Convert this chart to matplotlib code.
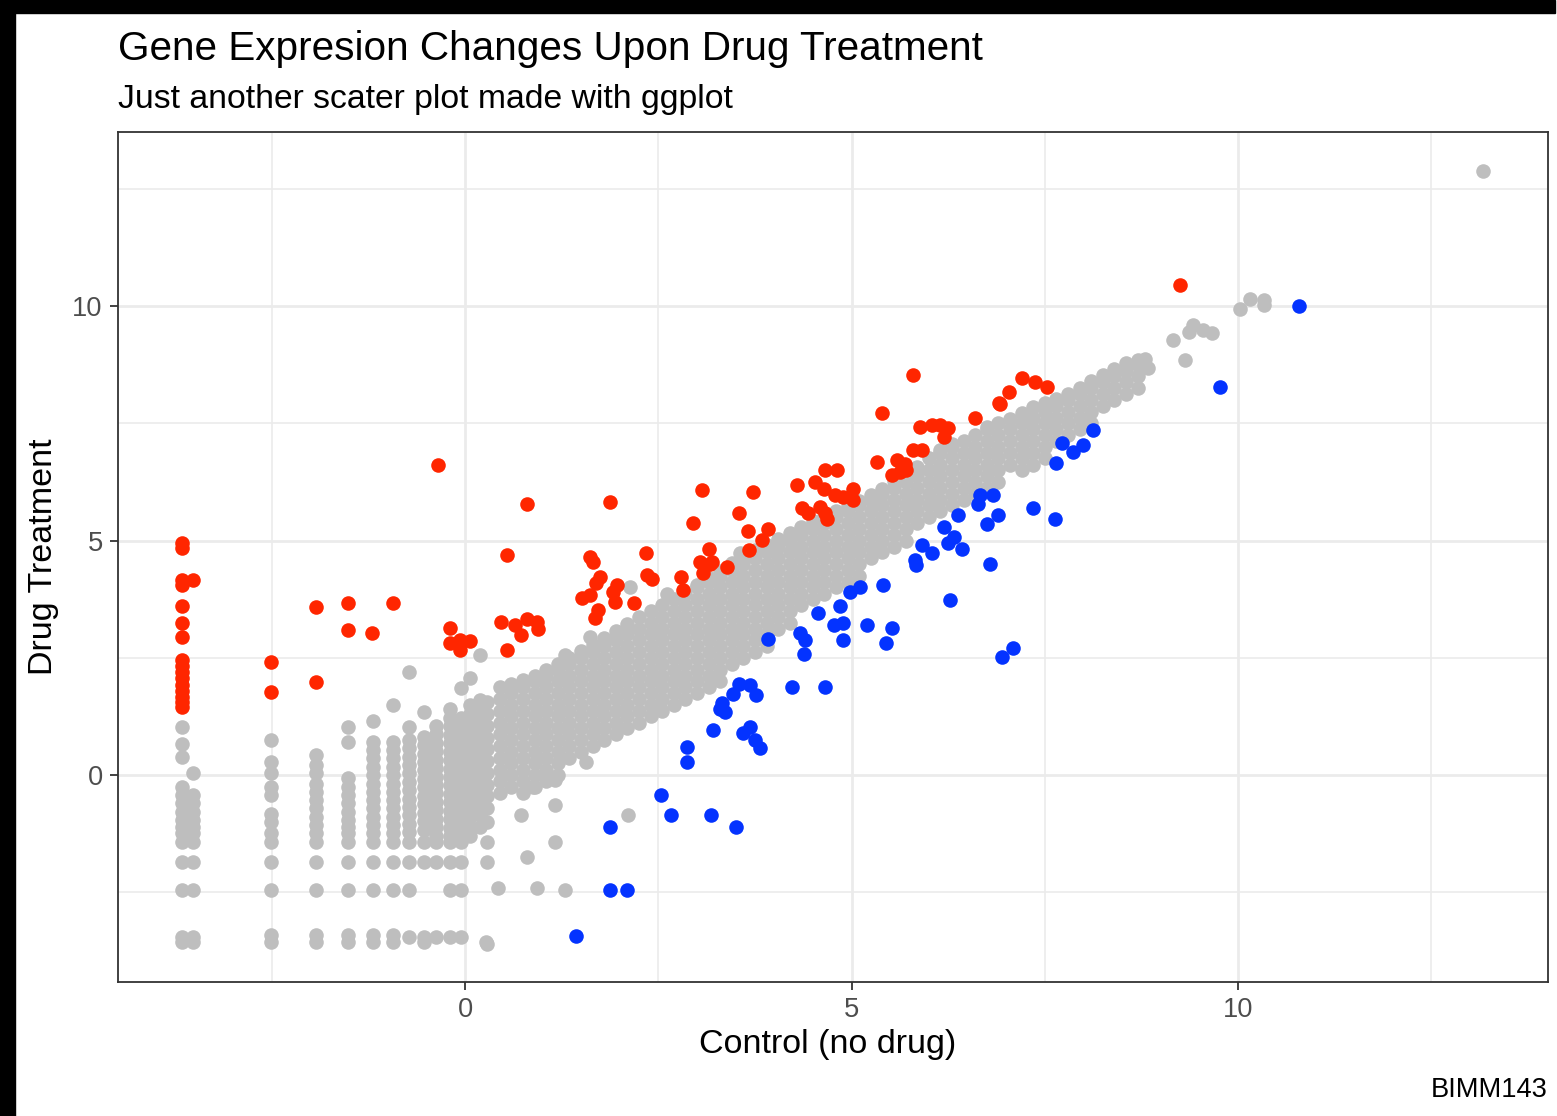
import numpy as np
import matplotlib.pyplot as plt
from matplotlib.patches import Rectangle

W, H = 1557, 1116

# ---- unchanged genes (gray) -------------------------------------------------
# low-count genes sit on discrete columns; one list of drug values per column
grid_ctrl = [-3.66, -3.52, -2.51, -1.93, -1.51, -1.19, -0.93, -0.72, -0.53,
             -0.37, -0.20, -0.05, 0.06, 0.19, 0.28]
grid_drug = [
    [1.02, 0.66, 0.39, -0.25, -0.43, -0.60, -0.78, -0.96, -1.10, -1.24, -1.42, -1.85, -2.44, -3.45, -3.56],
    [0.04, -0.43, -0.60, -0.78, -0.96, -1.10, -1.24, -1.42, -1.85, -2.44, -3.45, -3.56],
    [0.75, 0.28, 0.04, -0.25, -0.43, -0.82, -1.00, -1.24, -1.42, -1.85, -2.44, -3.40, -3.56],
    [0.43, 0.21, 0.04, -0.18, -0.36, -0.53, -0.71, -0.89, -1.07, -1.24, -1.42, -1.85, -2.44, -3.40, -3.56],
    [1.03, 0.71, -0.07, -0.25, -0.43, -0.60, -0.78, -0.96, -1.10, -1.24, -1.42, -1.85, -2.44, -3.40, -3.56],
    [1.15, 0.71, 0.53, 0.36, 0.18, 0.00, -0.18, -0.36, -0.53, -0.71, -0.89, -1.07, -1.24, -1.42, -1.85, -2.44, -3.40, -3.56],
    [1.49, 0.71, 0.53, 0.36, 0.18, 0.00, -0.18, -0.36, -0.53, -0.71, -0.89, -1.07, -1.24, -1.42, -1.85, -2.44, -3.40, -3.56],
    [2.20, 1.03, 0.75, 0.57, 0.39, 0.21, 0.04, -0.14, -0.32, -0.50, -0.68, -0.86, -1.04, -1.22, -1.42, -1.85, -2.44, -3.45],
    [1.35, 0.82, 0.64, 0.46, 0.28, 0.10, -0.08, -0.26, -0.44, -0.62, -0.80, -0.98, -1.16, -1.42, -1.85, -3.45, -3.56],
    [1.05, 0.87, 0.69, 0.51, 0.33, 0.15, -0.03, -0.21, -0.39, -0.57, -0.75, -0.93, -1.11, -1.29, -1.42, -1.85, -3.45],
    [1.42, 1.22, 1.04, 0.86, 0.68, 0.50, 0.32, 0.14, -0.04, -0.22, -0.40, -0.58, -0.76, -0.94, -1.12, -1.30, -1.42, -1.85, -2.44, -3.45],
    [1.85, 1.22, 1.04, 0.86, 0.68, 0.50, 0.32, 0.14, -0.04, -0.22, -0.40, -0.58, -0.76, -0.94, -1.12, -1.30, -1.42, -1.85, -2.44, -3.45],
    [2.06, 1.50, 1.30, 1.10, 0.90, 0.70, 0.50, 0.30, 0.10, -0.10, -0.30, -0.50, -0.70, -0.90, -1.10, -1.30],
    [2.56, 1.60, 1.40, 1.20, 1.00, 0.80, 0.60, 0.40, 0.20, 0.00, -0.20, -0.40, -0.60, -0.85, -1.10],
    [1.55, 1.30, 1.05, 0.80, 0.55, 0.30, 0.05, -0.20, -0.45, -0.70, -1.00, -1.42, -1.85, -3.59],
]

# the main diagonal cloud, read column by column
band_ctrl = [0.45, 0.60, 0.75, 0.90, 1.05, 1.20, 1.35, 1.50, 1.65, 1.80, 1.95, 2.10,
             2.25, 2.40, 2.55, 2.70, 2.85, 3.00, 3.15, 3.30, 3.45, 3.60, 3.75, 3.90,
             4.05, 4.20, 4.35, 4.50, 4.65, 4.80, 4.95, 5.10, 5.25, 5.40, 5.55, 5.70,
             5.85, 6.00, 6.15, 6.30, 6.45, 6.60, 6.75, 6.90, 7.05, 7.20, 7.35, 7.50,
             7.65, 7.80, 7.95, 8.10, 8.25, 8.40, 8.55, 8.70]
band_drug = [
    [-0.38, -0.13, 0.12, 0.37, 0.62, 0.87, 1.12, 1.37, 1.62, 1.87],
    [-0.25, 0.00, 0.25, 0.50, 0.75, 1.00, 1.25, 1.50, 1.75, 1.94],
    [-0.38, -0.13, 0.12, 0.37, 0.62, 0.87, 1.12, 1.37, 1.62, 1.87, 2.03],
    [-0.25, 0.00, 0.25, 0.50, 0.75, 1.00, 1.25, 1.50, 1.75, 2.00, 2.12],
    [-0.13, 0.12, 0.37, 0.62, 0.87, 1.12, 1.37, 1.62, 1.87, 2.12, 2.24],
    [0.00, 0.25, 0.50, 0.75, 1.00, 1.25, 1.50, 1.75, 2.00, 2.25, 2.37],
    [0.37, 0.62, 0.87, 1.12, 1.37, 1.62, 1.87, 2.12, 2.37, 2.50],
    [0.50, 0.75, 1.00, 1.25, 1.50, 1.75, 2.00, 2.25, 2.50, 2.64],
    [0.62, 0.87, 1.12, 1.37, 1.62, 1.87, 2.12, 2.37, 2.62, 2.78],
    [0.75, 1.00, 1.25, 1.50, 1.75, 2.00, 2.25, 2.50, 2.75, 2.93],
    [0.87, 1.12, 1.37, 1.62, 1.87, 2.12, 2.37, 2.62, 2.87, 3.08],
    [1.00, 1.25, 1.50, 1.75, 2.00, 2.25, 2.50, 2.75, 3.00, 3.23],
    [1.12, 1.37, 1.62, 1.87, 2.12, 2.37, 2.62, 2.87, 3.12, 3.37],
    [1.25, 1.50, 1.75, 2.00, 2.25, 2.50, 2.75, 3.00, 3.25, 3.49],
    [1.37, 1.62, 1.87, 2.12, 2.37, 2.62, 2.87, 3.12, 3.37, 3.62],
    [1.50, 1.75, 2.00, 2.25, 2.50, 2.75, 3.00, 3.25, 3.50, 3.75],
    [1.62, 1.87, 2.12, 2.37, 2.62, 2.87, 3.12, 3.37, 3.62, 3.87],
    [1.75, 2.00, 2.25, 2.50, 2.75, 3.00, 3.25, 3.50, 3.75, 4.00, 4.06],
    [1.87, 2.12, 2.37, 2.62, 2.87, 3.12, 3.37, 3.62, 3.87, 4.12, 4.20],
    [2.00, 2.25, 2.50, 2.75, 3.00, 3.25, 3.50, 3.75, 4.00, 4.25, 4.35],
    [2.37, 2.62, 2.87, 3.12, 3.37, 3.62, 3.87, 4.12, 4.37, 4.52],
    [2.50, 2.75, 3.00, 3.25, 3.50, 3.75, 4.00, 4.25, 4.50, 4.68],
    [2.62, 2.87, 3.12, 3.37, 3.62, 3.87, 4.12, 4.37, 4.62, 4.80],
    [2.75, 3.00, 3.25, 3.50, 3.75, 4.00, 4.25, 4.50, 4.75, 4.91],
    [3.12, 3.37, 3.62, 3.87, 4.12, 4.37, 4.62, 4.87, 5.04],
    [3.25, 3.50, 3.75, 4.00, 4.25, 4.50, 4.75, 5.00, 5.16],
    [3.62, 3.87, 4.12, 4.37, 4.62, 4.87, 5.12, 5.29],
    [3.75, 4.00, 4.25, 4.50, 4.75, 5.00, 5.25, 5.41],
    [3.87, 4.12, 4.37, 4.62, 4.87, 5.12, 5.37, 5.52],
    [4.00, 4.25, 4.50, 4.75, 5.00, 5.25, 5.50, 5.62],
    [4.12, 4.37, 4.62, 4.87, 5.12, 5.37, 5.62, 5.73],
    [4.25, 4.50, 4.75, 5.00, 5.25, 5.50, 5.75, 5.85],
    [4.62, 4.87, 5.12, 5.37, 5.62, 5.87, 5.97],
    [4.75, 5.00, 5.25, 5.50, 5.75, 6.00, 6.09],
    [4.87, 5.12, 5.37, 5.62, 5.87, 6.12, 6.26],
    [5.00, 5.25, 5.50, 5.75, 6.00, 6.25, 6.42],
    [5.37, 5.62, 5.87, 6.12, 6.37, 6.56],
    [5.50, 5.75, 6.00, 6.25, 6.50, 6.75],
    [5.62, 5.87, 6.12, 6.37, 6.62, 6.87, 6.93],
    [5.75, 6.00, 6.25, 6.50, 6.75, 7.00, 7.06],
    [5.87, 6.12, 6.37, 6.62, 6.87, 7.12],
    [6.00, 6.25, 6.50, 6.75, 7.00, 7.25],
    [6.12, 6.37, 6.62, 6.87, 7.12, 7.37, 7.42],
    [6.25, 6.50, 6.75, 7.00, 7.25, 7.50],
    [6.62, 6.87, 7.12, 7.37, 7.60],
    [6.50, 6.75, 7.00, 7.25, 7.50, 7.72],
    [6.62, 6.87, 7.12, 7.37, 7.62, 7.85],
    [6.75, 7.00, 7.25, 7.50, 7.75, 7.94],
    [7.12, 7.37, 7.62, 7.87, 8.02],
    [7.25, 7.50, 7.75, 8.00, 8.12],
    [7.37, 7.62, 7.87, 8.12, 8.26],
    [7.50, 7.75, 8.00, 8.25, 8.40],
    [7.87, 8.12, 8.37, 8.53],
    [8.00, 8.25, 8.50, 8.65],
    [8.12, 8.37, 8.62, 8.78],
    [8.25, 8.50, 8.75, 8.86],
]

# scattered gray genes off the main cloud and the high-expression tail
other_ctrl = [1.29, 1.62, 2.13, 2.61, 2.52, 1.16, 1.16, 1.16, 0.73, 0.80, 0.88,
              2.11, 0.43, 0.93, 1.29, 0.27, 1.57, 3.56,
              8.80, 8.84, 9.16, 9.31, 9.36, 9.42, 9.55, 9.66, 10.03, 10.15,
              10.33, 10.33, 13.17]
other_drug = [2.56, 2.94, 4.01, 3.87, 1.43, -0.11, -0.64, -1.42, -0.85, -1.74, -0.26,
              -0.85, -2.41, -2.41, -2.44, -3.56, 0.28, 4.73,
              8.88, 8.67, 9.27, 8.85, 9.45, 9.59, 9.49, 9.43, 9.93, 10.16,
              10.13, 10.03, 12.88]

# ---- up-regulated genes (red) ------------------------------------------------
up_ctrl = [-3.66, -3.66, -3.66, -3.66, -3.66, -3.66, -3.66, -3.66, -3.66, -3.66,
           -3.66, -3.66, -3.66, -3.66, -3.66, -3.66, -3.52,
           -2.51, -2.51, -1.93, -1.93, -1.51, -1.51, -1.20, -0.93, -0.35, -0.19,
           -0.19, -0.06, -0.06, 0.06, 0.47, 0.54, 0.54, 0.65, 0.80, 0.93, 0.95,
           0.73, 0.80, 1.87, 1.61, 1.65, 2.34, 3.07, 2.95, 3.73, 3.54, 3.66, 3.67,
           3.15, 3.04, 3.17, 3.08, 3.39, 2.35, 2.42, 2.80, 2.82, 1.75, 1.70, 1.96,
           1.92, 1.51, 1.62, 1.94, 2.18, 1.72, 1.68, 3.92, 3.84, 3.20,
           5.40, 6.92, 6.60, 5.89, 6.04, 6.14, 6.25, 6.19, 5.80, 5.91, 5.59, 5.33,
           5.71, 5.52, 5.63, 4.66, 4.81, 4.29, 4.53, 4.64, 5.02, 4.79, 4.89, 5.02,
           4.36, 4.59, 4.66, 4.44, 4.68, 9.25, 5.79, 7.21, 7.37, 7.53, 7.04, 6.91,
           5.69]
up_drug = [4.95, 4.85, 4.15, 4.05, 3.60, 3.25, 2.95, 2.45, 2.32, 2.19,
           2.06, 1.93, 1.80, 1.67, 1.55, 1.45, 4.15,
           2.42, 1.78, 3.59, 1.99, 3.67, 3.09, 3.02, 3.68, 6.61, 3.14,
           2.81, 2.88, 2.67, 2.86, 3.27, 4.69, 2.67, 3.20, 3.33, 3.27, 3.11,
           2.99, 5.79, 5.83, 4.65, 4.55, 4.73, 6.08, 5.37, 6.04, 5.59, 5.20, 4.80,
           4.83, 4.55, 4.51, 4.30, 4.44, 4.26, 4.19, 4.23, 3.94, 4.23, 4.09, 4.05,
           3.91, 3.77, 3.84, 3.70, 3.66, 3.52, 3.34, 5.24, 5.01, 4.55,
           7.71, 7.91, 7.61, 7.43, 7.46, 7.46, 7.39, 7.21, 6.93, 6.93, 6.72, 6.68,
           6.50, 6.40, 6.47, 6.50, 6.50, 6.18, 6.25, 6.11, 6.11, 5.97, 5.93, 5.86,
           5.69, 5.72, 5.58, 5.58, 5.47, 10.45, 8.53, 8.46, 8.39, 8.28, 8.17, 7.93,
           6.64]

# ---- down-regulated genes (blue) --------------------------------------------
down_ctrl = [10.79, 9.77, 8.12, 7.72, 7.87, 8.00, 7.65, 7.35, 7.63, 6.66, 6.83,
             6.64, 6.38, 6.90, 6.75, 6.19, 6.32, 6.25, 6.43, 5.91, 6.04, 5.82, 5.84,
             6.79, 5.41, 5.11, 4.98, 6.27, 4.85, 4.57, 4.77, 4.89, 5.20, 5.52, 5.45,
             4.89, 3.92, 4.33, 4.40, 4.38, 6.94, 7.09, 4.23, 4.66, 3.54, 3.69, 3.77,
             3.47, 3.32, 3.36, 3.30, 3.21, 3.69, 3.60, 3.75, 3.81, 2.87, 2.87, 2.54,
             2.67, 3.18, 3.50, 1.87, 1.87, 2.09, 1.44]
down_drug = [10.00, 8.28, 7.36, 7.07, 6.89, 7.04, 6.66, 5.70, 5.45, 5.97, 5.97,
             5.79, 5.54, 5.54, 5.35, 5.29, 5.08, 4.94, 4.83, 4.90, 4.73, 4.58, 4.48,
             4.51, 4.05, 4.01, 3.91, 3.73, 3.60, 3.45, 3.20, 3.25, 3.20, 3.13, 2.82,
             2.89, 2.91, 3.02, 2.88, 2.59, 2.52, 2.71, 1.88, 1.88, 1.95, 1.92, 1.71,
             1.74, 1.53, 1.35, 1.42, 0.96, 1.03, 0.89, 0.75, 0.57, 0.60, 0.28, -0.43,
             -0.85, -0.85, -1.10, -1.10, -2.44, -2.44, -3.43]


def unstack(cols, vals):
    xs, ys = [], []
    for x, col in zip(cols, vals):
        xs += [x] * len(col)
        ys += col
    return xs, ys


gx1, gy1 = unstack(grid_ctrl, grid_drug)
gx2, gy2 = unstack(band_ctrl, band_drug)
gray_x = gx1 + gx2 + other_ctrl
gray_y = gy1 + gy2 + other_drug

plt.rcParams['font.family'] = ['Liberation Sans', 'DejaVu Sans']

fig = plt.figure(figsize=(W / 100, H / 100), dpi=100)
fig.patch.set_facecolor('white')
ax = fig.add_axes([118 / W, 1 - 982 / H, 1430 / W, 850 / H])

pt_size = 110
ax.scatter(gray_x, gray_y, s=pt_size, c='#BEBEBE', linewidths=0, zorder=3)
ax.scatter(up_ctrl, up_drug, s=pt_size, c='#FF2600', linewidths=0, zorder=4)
ax.scatter(down_ctrl, down_drug, s=pt_size, c='#0433FF', linewidths=0, zorder=4)

ax.set_xlim(-4.49, 14.01)
ax.set_ylim(-4.41, 13.71)
ax.set_xticks([0, 5, 10])
ax.set_yticks([0, 5, 10])
ax.set_xticks([-2.5, 2.5, 7.5, 12.5], minor=True)
ax.set_yticks([-2.5, 2.5, 7.5, 12.5], minor=True)
ax.grid(which='major', color='#EBEBEB', linewidth=2.0, zorder=0)
ax.grid(which='minor', color='#EBEBEB', linewidth=1.2, zorder=0)
ax.set_axisbelow(True)
ax.tick_params(which='major', length=6.1, width=1.3, color='#333333',
               labelsize=19.6, labelcolor='#4D4D4D', pad=4.9)
ax.tick_params(which='minor', length=0)
for sp in ax.spines.values():
    sp.set_color('#333333')
    sp.set_linewidth(1.3)

fig.text(118 / W, 1 - 60 / H, 'Gene Expresion Changes Upon Drug Treatment',
         fontsize=29.2, color='black', ha='left', va='baseline')
fig.text(118 / W, 1 - 108 / H, 'Just another scater plot made with ggplot',
         fontsize=24.3, color='black', ha='left', va='baseline')
fig.text(828 / W, 1 - 1045 / H, 'Control (no drug)', fontsize=24.5,
         ha='center', va='center')
fig.text(44 / W, 1 - 557 / H, 'Drug Treatment', fontsize=24.5,
         rotation=90, ha='center', va='center')
fig.text(1548 / W, 1 - 1090 / H, 'BIMM143', fontsize=19.6,
         ha='right', va='center')

# dark frame along the top and left edges
fig.patches.append(Rectangle((0, 1 - 13 / H), 1555 / W, 13 / H,
                             transform=fig.transFigure, color='black', zorder=10))
fig.patches.append(Rectangle((0, 0), 15 / W, 1, transform=fig.transFigure,
                             color='black', zorder=10))

fig.savefig('out.png', dpi=100)
